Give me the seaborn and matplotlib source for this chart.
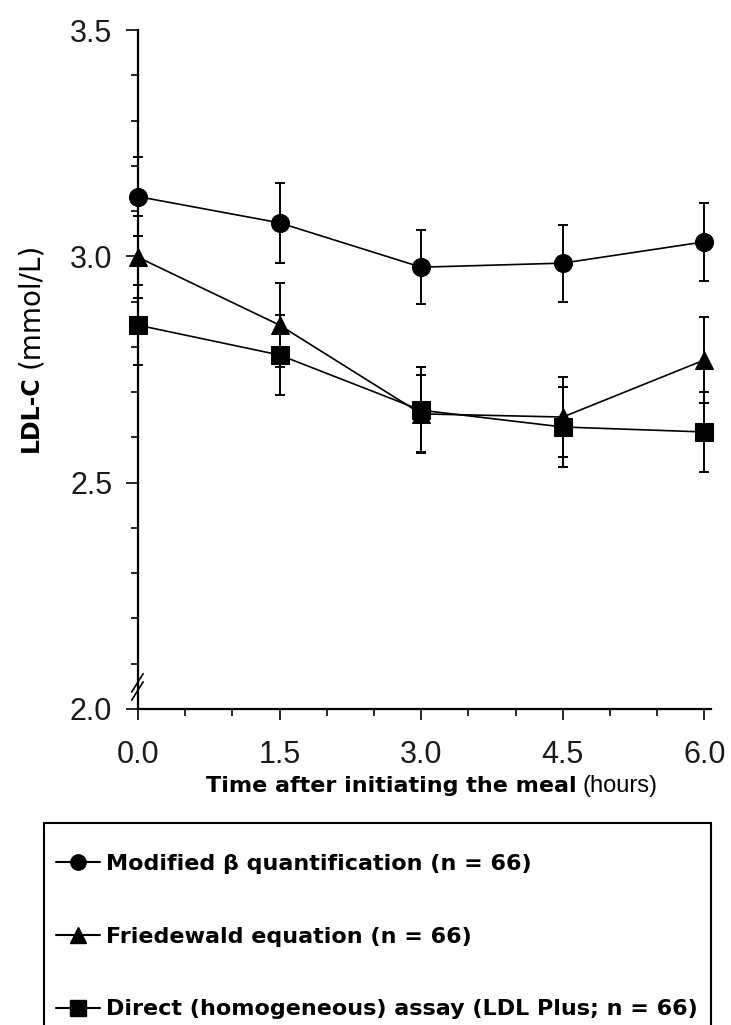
import numpy as np
import pandas as pd
import matplotlib
matplotlib.use("Agg")
import matplotlib.pyplot as plt
import seaborn as sns
from matplotlib.lines import Line2D
from matplotlib.patches import Rectangle
from matplotlib.ticker import FixedLocator, MultipleLocator, FormatStrFormatter

# ---------------- data ----------------
time_h = [0.0, 1.5, 3.0, 4.5, 6.0]
beta_quant = [3.132, 3.074, 2.976, 2.985, 3.032]
beta_quant_se = [0.088, 0.089, 0.082, 0.085, 0.086]
friedewald = [2.998, 2.848, 2.652, 2.645, 2.771]
friedewald_se = [0.090, 0.093, 0.085, 0.088, 0.095]
direct_assay = [2.848, 2.782, 2.660, 2.623, 2.612]
direct_assay_se = [0.088, 0.088, 0.095, 0.088, 0.088]
series_labels = ["Modified \u03b2 quantification (n = 66)",
                 "Friedewald equation (n = 66)",
                 "Direct (homogeneous) assay (LDL Plus; n = 66)"]
series_markers = ["o", "^", "s"]
x_ticks = [0.0, 1.5, 3.0, 4.5, 6.0]
y_ticks = [2.0, 2.5, 3.0, 3.5]

W, H = 731, 1025
sns.set_theme(style="ticks")
plt.rcParams["font.family"] = ["Liberation Sans", "DejaVu Sans"]
plt.rcParams["text.color"] = "black"

df = pd.concat([
    pd.DataFrame({"time": time_h, "ldl": vals, "method": lab})
    for vals, lab in zip([beta_quant, friedewald, direct_assay], series_labels)
], ignore_index=True)

fig = plt.figure(figsize=(W / 100, H / 100), dpi=100)
ax = fig.add_axes([138 / W, 1 - 709 / H, (711 - 138) / W, (709 - 30) / H])

sns.lineplot(data=df, x="time", y="ldl", hue="method", style="method",
             hue_order=series_labels, style_order=series_labels,
             palette=["black"] * 3, markers=series_markers, dashes=False,
             markersize=13, linewidth=1.2, markeredgecolor="black",
             legend=False, ax=ax, clip_on=False, sort=False, errorbar=None,
             zorder=4)

for vals, se in zip([beta_quant, friedewald, direct_assay],
                    [beta_quant_se, friedewald_se, direct_assay_se]):
    ax.errorbar(time_h, vals, yerr=se, fmt="none", ecolor="black",
                elinewidth=1.4, capsize=3.6, capthick=1.4, clip_on=False,
                zorder=3)

ax.set_xlim(0, 6.07)
ax.set_ylim(2.0, 3.5)
ax.xaxis.set_major_locator(FixedLocator(x_ticks))
ax.xaxis.set_minor_locator(MultipleLocator(0.5))
ax.yaxis.set_major_locator(FixedLocator(y_ticks))
ax.yaxis.set_minor_locator(MultipleLocator(0.1))
ax.xaxis.set_major_formatter(FormatStrFormatter("%.1f"))
ax.yaxis.set_major_formatter(FormatStrFormatter("%.1f"))
ax.set_xlabel("")
ax.set_ylabel("")
sns.despine(ax=ax)
for s in ["left", "bottom"]:
    ax.spines[s].set_linewidth(1.6)
    ax.spines[s].set_color("black")

ax.tick_params(axis="x", which="major", length=8, width=1.2, pad=14,
               labelsize=22, colors="black", labelcolor="#1a1a1a")
ax.tick_params(axis="x", which="minor", length=5, width=1.2, colors="black")
ax.tick_params(axis="y", which="major", length=8.6, width=1.2, pad=10,
               labelsize=22, colors="black", labelcolor="#1a1a1a")
ax.tick_params(axis="y", which="minor", length=5, width=1.2, colors="black")

# axis break marks on y-axis
for dy in (0.0, 0.012):
    ax.plot([-0.011, 0.009], [0.013 + dy, 0.040 + dy], transform=ax.transAxes,
            color="black", lw=1.2, clip_on=False)

# ---------------- axis labels (mixed weights) ----------------
fig.canvas.draw()
r = fig.canvas.get_renderer()

xl1 = fig.text(0, 0, "Time after initiating the meal", fontsize=16,
               weight="bold", family="DejaVu Sans", ha="left", va="baseline",
               color="black")
xl2 = fig.text(0, 0, "(hours)", fontsize=17, family="Liberation Sans",
               ha="left", va="baseline", color="black")
w1 = xl1.get_window_extent(r).width
w2 = xl2.get_window_extent(r).width
gap = 6
start = 432 - (w1 + gap + w2) / 2
ybase = (H - 792) / H
xl1.set_position((start / W, ybase))
xl2.set_position(((start + w1 + gap) / W, ybase))

yl1 = fig.text(38 / W, (H - 452) / H, "LDL-C", rotation=90,
               rotation_mode="anchor", ha="left", va="baseline", fontsize=17,
               weight="bold", family="DejaVu Sans", color="black")
bb = yl1.get_window_extent(r)
yl2 = fig.text(38 / W, (bb.y1 + 7) / H, "(mmol/L)", rotation=90,
               rotation_mode="anchor", ha="left", va="baseline", fontsize=20,
               family="DejaVu Sans", color="black")

# ---------------- legend ----------------
handles = [Line2D([], [], color="black", marker=m, markersize=11, lw=1.5,
                  markeredgecolor="black") for m in series_markers]
fig.legend(handles, series_labels, loc="upper left",
           bbox_to_anchor=(56 / W, 1 - 854 / H), frameon=False, borderpad=0,
           borderaxespad=0, handlelength=2.0, handletextpad=0.25,
           labelspacing=2.37, labelcolor="black",
           prop=dict(family="DejaVu Sans", weight="bold", size=16))
fig.add_artist(Rectangle((44 / W, -0.02), (711 - 44) / W, (H - 823) / H + 0.02,
                         transform=fig.transFigure, fill=False, ec="black",
                         lw=1.5, clip_on=False))

fig.savefig("out.png", dpi=100)
